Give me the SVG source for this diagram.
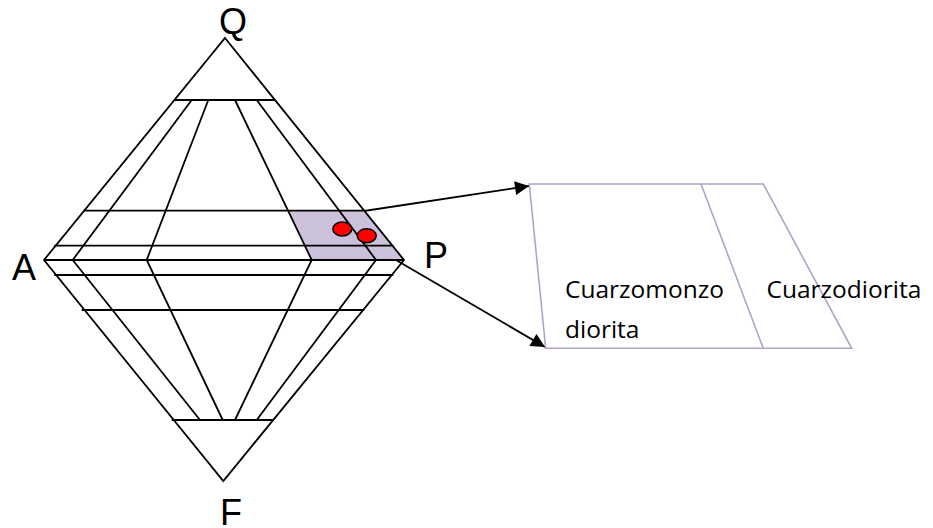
<svg xmlns="http://www.w3.org/2000/svg" width="933" height="528" viewBox="0 0 933 528">
<defs>
<style>
.ln{stroke:#000;stroke-width:1.8;fill:none}
.pl{stroke:#B3A2C7;stroke-width:1.6;fill:none}
.lbl{font-family:"Liberation Sans",Arial,sans-serif;font-size:36px;fill:#000;text-anchor:middle}
.txt{font-family:"Open Sans","Liberation Sans",sans-serif;font-size:24.5px;fill:#000}
.dot{fill:#FF0000;stroke:#000;stroke-width:1.5}
</style>
<marker id="ah" viewBox="0 0 10 10" refX="10" refY="5" markerWidth="16" markerHeight="14" markerUnits="userSpaceOnUse" orient="auto">
<path d="M0,0 L10,5 L0,10 z" fill="#000"/>
</marker>
</defs>
<rect width="933" height="528" fill="#fff"/>
<g id="diamond">
<polygon points="288.3,210.7 364.3,210.7 404,260 311.7,260" fill="#CCC1DA" stroke="none"/>
<polygon class="ln" points="225,38 404,260 223.3,481 44,260"/>
<line class="ln" x1="174.5" y1="100" x2="275.5" y2="100"/>
<line class="ln" x1="83.3" y1="210.7" x2="364.3" y2="210.7"/>
<line class="ln" x1="54.3" y1="245.7" x2="393.3" y2="245.7"/>
<line class="ln" x1="44" y1="260" x2="404" y2="260"/>
<line class="ln" x1="54.3" y1="275" x2="393.3" y2="275"/>
<line class="ln" x1="81.7" y1="310" x2="364.3" y2="310"/>
<line class="ln" x1="171.7" y1="420" x2="273.3" y2="420"/>
<polyline class="ln" points="191.7,100 72.7,260 200,420"/>
<polyline class="ln" points="208.3,100 146.7,260 222.7,420"/>
<polyline class="ln" points="235,100 311.7,260 235,420"/>
<polyline class="ln" points="256.7,100 376,260 256.7,420"/>
<ellipse class="dot" cx="342.3" cy="229" rx="9.5" ry="7"/>
<ellipse class="dot" cx="366.7" cy="235.7" rx="9.5" ry="7"/>
</g>
<g id="labels">
<text class="lbl" x="233" y="34">Q</text>
<text class="lbl" x="24" y="280">A</text>
<text class="lbl" x="436" y="268">P</text>
<text class="lbl" x="231" y="525">F</text>
</g>
<g id="connectors">
<line class="ln" x1="364" y1="211" x2="529" y2="186" marker-end="url(#ah)"/>
<line class="ln" x1="396" y1="260" x2="545" y2="347" marker-end="url(#ah)"/>
</g>
<g id="detail">
<polygon class="pl" points="529.3,184 763.3,184 851.7,348.3 545.7,348.3"/>
<line class="pl" x1="701" y1="184" x2="763.3" y2="348.3"/>
<text class="txt" x="565" y="297.5">Cuarzomonzo</text>
<text class="txt" x="565" y="337.5">diorita</text>
<text class="txt" x="766.5" y="297.5">Cuarzodiorita</text>
</g>
</svg>
